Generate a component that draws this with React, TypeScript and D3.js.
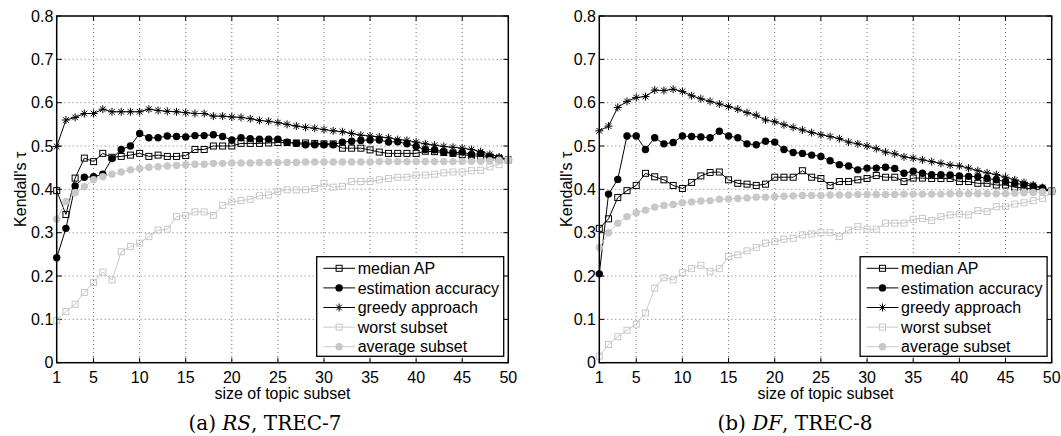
import React, { useEffect, useRef } from "react";
import * as d3 from "d3";

// topic subset sizes on the x axis
const sizes = d3.range(1, 51);
const xTicks = [1, 5, 10, 15, 20, 25, 30, 35, 40, 45, 50];
const yTicks = [0, 0.1, 0.2, 0.3, 0.4, 0.5, 0.6, 0.7, 0.8];
const yTickLabels = ["0", "0.1", "0.2", "0.3", "0.4", "0.5", "0.6", "0.7", "0.8"];
const legendLabels = [
  "median AP",
  "estimation accuracy",
  "greedy approach",
  "worst subset",
  "average subset",
];

// (a) RS, TREC-7
const rsMedianAP = [
  0.397, 0.342, 0.426, 0.472, 0.464, 0.483, 0.474, 0.476, 0.479, 0.483,
  0.476, 0.479, 0.476, 0.476, 0.478, 0.492, 0.492, 0.5, 0.5, 0.5,
  0.506, 0.506, 0.506, 0.507, 0.508, 0.508, 0.507, 0.507, 0.506, 0.505,
  0.505, 0.495, 0.495, 0.495, 0.491, 0.486, 0.483, 0.483, 0.483, 0.483,
  0.488, 0.487, 0.485, 0.483, 0.48, 0.478, 0.476, 0.474, 0.471, 0.468,
];
const rsEstAccuracy = [
  0.242, 0.31, 0.408, 0.428, 0.429, 0.435, 0.471, 0.492, 0.5, 0.529,
  0.519, 0.519, 0.523, 0.522, 0.521, 0.524, 0.524, 0.526, 0.522, 0.514,
  0.519, 0.517, 0.516, 0.516, 0.516, 0.509, 0.506, 0.503, 0.503, 0.503,
  0.503, 0.509, 0.511, 0.513, 0.514, 0.514, 0.509, 0.51, 0.505, 0.499,
  0.492, 0.491, 0.487, 0.484, 0.486, 0.48, 0.483, 0.475, 0.472, 0.468,
];
const rsGreedy = [
  0.499, 0.56, 0.566, 0.575, 0.575, 0.585, 0.579, 0.579, 0.579, 0.579,
  0.585, 0.582, 0.58, 0.579, 0.577, 0.575, 0.575, 0.569, 0.569, 0.567,
  0.566, 0.563, 0.559, 0.557, 0.554, 0.55, 0.546, 0.543, 0.541, 0.538,
  0.535, 0.533, 0.529, 0.525, 0.523, 0.521, 0.519, 0.515, 0.513, 0.509,
  0.505, 0.502, 0.499, 0.497, 0.495, 0.492, 0.487, 0.481, 0.475, 0.468,
];
const rsWorst = [
  0.097, 0.118, 0.135, 0.162, 0.185, 0.209, 0.191, 0.256, 0.268, 0.276,
  0.291, 0.306, 0.308, 0.337, 0.34, 0.348, 0.348, 0.34, 0.363, 0.371,
  0.374, 0.377, 0.385, 0.387, 0.395, 0.399, 0.399, 0.399, 0.402, 0.414,
  0.405, 0.407, 0.418, 0.418, 0.418, 0.422, 0.425, 0.428, 0.428, 0.433,
  0.433, 0.435, 0.438, 0.44, 0.44, 0.443, 0.444, 0.452, 0.457, 0.467,
];
const rsAverage = [
  0.331, 0.372, 0.392, 0.406, 0.422, 0.429, 0.435, 0.44, 0.445, 0.448,
  0.451, 0.452, 0.454, 0.455, 0.457, 0.458, 0.458, 0.46, 0.46, 0.461,
  0.461, 0.461, 0.462, 0.462, 0.462, 0.462, 0.462, 0.463, 0.463, 0.463,
  0.463, 0.463, 0.463, 0.463, 0.463, 0.464, 0.464, 0.464, 0.464, 0.464,
  0.464, 0.464, 0.464, 0.464, 0.464, 0.465, 0.465, 0.466, 0.467, 0.468,
];

// (b) DF, TREC-8
const dfMedianAP = [
  0.31, 0.332, 0.381, 0.397, 0.409, 0.437, 0.429, 0.422, 0.409, 0.402,
  0.416, 0.431, 0.439, 0.44, 0.422, 0.414, 0.412, 0.409, 0.412, 0.428,
  0.428, 0.428, 0.443, 0.428, 0.425, 0.409, 0.418, 0.418, 0.422, 0.425,
  0.432, 0.428, 0.428, 0.418, 0.426, 0.426, 0.425, 0.425, 0.425, 0.418,
  0.418, 0.414, 0.414, 0.41, 0.41, 0.405, 0.403, 0.401, 0.399, 0.396,
];
const dfEstAccuracy = [
  0.205, 0.389, 0.423, 0.523, 0.523, 0.492, 0.519, 0.505, 0.508, 0.523,
  0.522, 0.521, 0.519, 0.534, 0.523, 0.519, 0.505, 0.503, 0.511, 0.509,
  0.492, 0.485, 0.483, 0.479, 0.476, 0.466, 0.457, 0.454, 0.445, 0.449,
  0.449, 0.451, 0.448, 0.437, 0.442, 0.437, 0.434, 0.434, 0.433, 0.431,
  0.43, 0.429, 0.425, 0.422, 0.418, 0.414, 0.411, 0.407, 0.403, 0.396,
];
const dfGreedy = [
  0.535, 0.546, 0.589, 0.603, 0.612, 0.614, 0.629, 0.628, 0.631, 0.626,
  0.616, 0.609, 0.603, 0.597, 0.591, 0.585, 0.577, 0.571, 0.56, 0.556,
  0.549, 0.543, 0.537, 0.531, 0.526, 0.522, 0.517, 0.509, 0.505, 0.5,
  0.494, 0.486, 0.482, 0.475, 0.472, 0.468, 0.464, 0.46, 0.456, 0.454,
  0.449, 0.443, 0.438, 0.434, 0.428, 0.422, 0.416, 0.41, 0.404, 0.396,
];
const dfWorst = [
  0.015, 0.042, 0.06, 0.075, 0.089, 0.115, 0.172, 0.196, 0.191, 0.208,
  0.217, 0.225, 0.211, 0.217, 0.245, 0.249, 0.258, 0.266, 0.276, 0.279,
  0.285, 0.287, 0.295, 0.297, 0.3, 0.3, 0.291, 0.306, 0.314, 0.308,
  0.308, 0.322, 0.322, 0.322, 0.331, 0.333, 0.328, 0.337, 0.341, 0.343,
  0.341, 0.351, 0.349, 0.36, 0.36, 0.366, 0.369, 0.374, 0.379, 0.394,
];
const dfAverage = [
  0.266, 0.3, 0.322, 0.337, 0.346, 0.352, 0.359, 0.363, 0.365, 0.369,
  0.371, 0.373, 0.374, 0.377, 0.378, 0.379, 0.38, 0.382, 0.382, 0.383,
  0.384, 0.385, 0.386, 0.386, 0.386, 0.387, 0.387, 0.387, 0.388, 0.388,
  0.388, 0.388, 0.388, 0.389, 0.389, 0.389, 0.389, 0.389, 0.39, 0.39,
  0.39, 0.39, 0.39, 0.39, 0.39, 0.391, 0.392, 0.393, 0.394, 0.396,
];

const GRAY = "#c8c8c8";
const FONT = "'Liberation Sans', Arial, Helvetica, sans-serif";

// marker style per series, same order as legendLabels
const styles = [
  { color: "#000", marker: "square" },
  { color: "#000", marker: "dot" },
  { color: "#000", marker: "star" },
  { color: GRAY, marker: "square" },
  { color: GRAY, marker: "dot" },
];

const panels = [
  {
    left: 56.7,
    right: 508.3,
    yLabelX: 26,
    captionX: 265,
    caption: ["(a) ", "RS", ", TREC-7"],
    series: [rsMedianAP, rsEstAccuracy, rsGreedy, rsWorst, rsAverage],
  },
  {
    left: 599.3,
    right: 1051.7,
    yLabelX: 572,
    captionX: 795,
    caption: ["(b) ", "DF", ", TREC-8"],
    series: [dfMedianAP, dfEstAccuracy, dfGreedy, dfWorst, dfAverage],
  },
];

const TOP = 16;
const BOTTOM = 362.7;

function drawMarker(g, type, color, cx, cy) {
  if (type === "square") {
    g.append("rect")
      .attr("x", cx - 3)
      .attr("y", cy - 3)
      .attr("width", 6)
      .attr("height", 6)
      .attr("fill", "none")
      .attr("stroke", color)
      .attr("stroke-width", 1);
  } else if (type === "dot") {
    g.append("circle")
      .attr("cx", cx)
      .attr("cy", cy)
      .attr("r", 3.7)
      .attr("fill", color);
  } else {
    const r = 4;
    const d = r * 0.7;
    g.append("path")
      .attr(
        "d",
        `M${cx},${cy - r}L${cx},${cy + r}M${cx - r},${cy}L${cx + r},${cy}` +
          `M${cx - d},${cy - d}L${cx + d},${cy + d}M${cx - d},${cy + d}L${cx + d},${cy - d}`
      )
      .attr("stroke", color)
      .attr("stroke-width", 1)
      .attr("fill", "none");
  }
}

const App = () => {
  const ref = useRef(null);

  useEffect(() => {
    const svg = d3.select(ref.current);
    svg.selectAll("*").remove();

    panels.forEach((p) => {
      const x = d3.scaleLinear().domain([1, 50]).range([p.left, p.right]);
      const y = d3.scaleLinear().domain([0, 0.8]).range([BOTTOM, TOP]);
      const g = svg.append("g");

      // dotted grid
      g.selectAll(".vgrid")
        .data(xTicks.filter((t) => t !== 1 && t !== 50))
        .enter()
        .append("line")
        .attr("x1", (d) => x(d))
        .attr("x2", (d) => x(d))
        .attr("y1", TOP)
        .attr("y2", BOTTOM)
        .attr("stroke", "#777")
        .attr("stroke-dasharray", "1,3");
      g.selectAll(".hgrid")
        .data(yTicks.filter((t) => t !== 0 && t !== 0.8))
        .enter()
        .append("line")
        .attr("x1", p.left)
        .attr("x2", p.right)
        .attr("y1", (d) => y(d))
        .attr("y2", (d) => y(d))
        .attr("stroke", "#777")
        .attr("stroke-dasharray", "1,3");

      // inward ticks on all four sides
      xTicks.forEach((t) => {
        g.append("line")
          .attr("x1", x(t)).attr("x2", x(t))
          .attr("y1", BOTTOM).attr("y2", BOTTOM - 5)
          .attr("stroke", "#000");
        g.append("line")
          .attr("x1", x(t)).attr("x2", x(t))
          .attr("y1", TOP).attr("y2", TOP + 5)
          .attr("stroke", "#000");
      });
      yTicks.forEach((t) => {
        g.append("line")
          .attr("x1", p.left).attr("x2", p.left + 5)
          .attr("y1", y(t)).attr("y2", y(t))
          .attr("stroke", "#000");
        g.append("line")
          .attr("x1", p.right).attr("x2", p.right - 5)
          .attr("y1", y(t)).attr("y2", y(t))
          .attr("stroke", "#000");
      });

      // tick labels
      g.selectAll(".xlab")
        .data(xTicks)
        .enter()
        .append("text")
        .attr("x", (d) => x(d))
        .attr("y", 382.5)
        .attr("text-anchor", "middle")
        .style("font-family", FONT)
        .style("font-size", "16px")
        .text((d) => d);
      g.selectAll(".ylab")
        .data(yTicks)
        .enter()
        .append("text")
        .attr("x", p.left - 3.4)
        .attr("y", (d) => y(d) + 5.7)
        .attr("text-anchor", "end")
        .style("font-family", FONT)
        .style("font-size", "16px")
        .text((d, i) => yTickLabels[i]);

      // axis titles
      g.append("text")
        .attr("x", (p.left + p.right) / 2)
        .attr("y", 398.5)
        .attr("text-anchor", "middle")
        .style("font-family", FONT)
        .style("font-size", "16px")
        .text("size of topic subset");
      g.append("text")
        .attr("transform", `translate(${p.yLabelX}, ${(TOP + BOTTOM) / 2}) rotate(-90)`)
        .attr("text-anchor", "middle")
        .style("font-family", FONT)
        .style("font-size", "16px")
        .text("Kendall's τ");

      // series lines + markers
      const line = d3
        .line()
        .x((d, i) => x(sizes[i]))
        .y((d) => y(d));
      p.series.forEach((vals, k) => {
        const st = styles[k];
        g.append("path")
          .datum(vals)
          .attr("fill", "none")
          .attr("stroke", st.color)
          .attr("stroke-width", 1)
          .attr("d", line);
        vals.forEach((v, i) => drawMarker(g, st.marker, st.color, x(sizes[i]), y(v)));
      });

      // frame
      g.append("rect")
        .attr("x", p.left)
        .attr("y", TOP)
        .attr("width", p.right - p.left)
        .attr("height", BOTTOM - TOP)
        .attr("fill", "none")
        .attr("stroke", "#000")
        .attr("stroke-width", 1.5);

      // legend
      const lx = p.right - 191.6;
      const ly = 256.7;
      const legend = g.append("g").attr("transform", `translate(${lx}, ${ly})`);
      legend
        .append("rect")
        .attr("width", 187)
        .attr("height", 99.6)
        .attr("fill", "#fff")
        .attr("stroke", "#000")
        .attr("stroke-width", 1.3);
      legendLabels.forEach((label, i) => {
        const st = styles[i];
        const cy = 11.6 + i * 19.6;
        legend
          .append("line")
          .attr("x1", 6.6)
          .attr("x2", 38.3)
          .attr("y1", cy)
          .attr("y2", cy)
          .attr("stroke", st.color);
        drawMarker(legend, st.marker, st.color, 22.4, cy);
        legend
          .append("text")
          .attr("x", 41)
          .attr("y", cy + 5.7)
          .style("font-family", FONT)
          .style("font-size", "16px")
          .text(label);
      });

      // caption
      const cap = svg
        .append("text")
        .attr("x", p.captionX)
        .attr("y", 430)
        .attr("text-anchor", "middle")
        .style("font-family", "'DejaVu Serif', 'Liberation Serif', serif")
        .style("font-size", "20px");
      cap.append("tspan").text(p.caption[0]);
      cap.append("tspan").style("font-style", "italic").text(p.caption[1]);
      cap.append("tspan").text(p.caption[2]);
    });
  }, []);

  return (
    <svg
      ref={ref}
      width={1061}
      height={436}
      style={{ position: "absolute", left: 0, top: 0, background: "#fff" }}
    />
  );
};

export default App;
